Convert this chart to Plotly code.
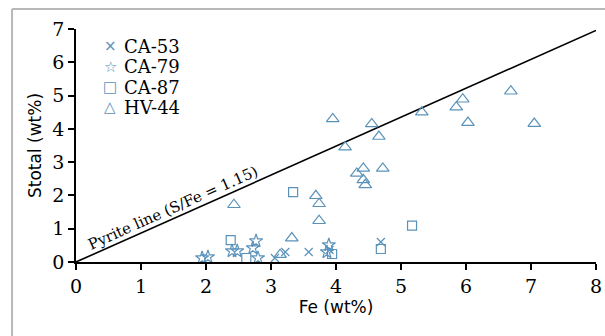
import plotly.graph_objects as go

ca53_fe = [3.06, 3.22, 3.58, 3.90, 4.69]
ca53_s = [0.12, 0.30, 0.30, 0.36, 0.60]

ca79_fe = [1.94, 2.03, 2.40, 2.48, 2.72, 2.77, 2.80, 3.86, 3.89]
ca79_s = [0.12, 0.15, 0.33, 0.33, 0.42, 0.63, 0.12, 0.30, 0.51]

ca87_fe = [2.38, 2.62, 3.34, 3.94, 4.69, 5.17]
ca87_s = [0.66, 0.12, 2.10, 0.24, 0.39, 1.09]

hv44_fe = [2.43, 3.14, 3.32, 3.69, 3.74, 3.74, 3.95, 4.14, 4.32, 4.42, 4.42, 4.45,
           4.55, 4.66, 4.72, 5.32, 5.85, 5.95, 6.03, 6.69, 7.05]
hv44_s = [1.72, 0.22, 0.72, 1.99, 1.75, 1.24, 4.30, 3.45, 2.66, 2.81, 2.47, 2.32,
          4.15, 3.77, 2.81, 4.50, 4.65, 4.89, 4.19, 5.13, 4.16]

series_names = ["CA-53", "CA-79", "CA-87", "HV-44"]
legend_glyphs = ["\u00d7", "\u2606", "\u25a1", "\u25b3"]

pyrite_ratio = 1.15
line_fe = [0, 8]
line_s = [v / pyrite_ratio for v in line_fe]

col = "#5a92ba"
serif = "DejaVu Serif"
sans = "DejaVu Sans"

fig = go.Figure()
fig.add_trace(go.Scatter(x=line_fe, y=line_s, mode="lines",
                         line=dict(color="black", width=1.6), showlegend=False,
                         hoverinfo="skip"))
series = [
    (ca53_fe, ca53_s, "x-thin-open", 8),
    (ca79_fe, ca79_s, "star-open", 10),
    (ca87_fe, ca87_s, "square-open", 9),
    (hv44_fe, hv44_s, "triangle-up-open", 11),
]
for name, (xs, ys, sym, sz) in zip(series_names, series):
    fig.add_trace(go.Scatter(x=xs, y=ys, mode="markers", name=name, showlegend=False,
                             marker=dict(symbol=sym, size=sz, color=col,
                                         line=dict(color=col, width=1.2)),
                             cliponaxis=False))

# manual legend (tight row spacing like the reference)
row_y = [0.927, 0.837, 0.751, 0.665]
for name, glyph, yy in zip(series_names, legend_glyphs, row_y):
    fig.add_annotation(x=0.0654, y=yy, xref="paper", yref="paper", text=glyph,
                       showarrow=False, xanchor="center", yanchor="middle",
                       font=dict(family=sans, size=15, color=col))
    fig.add_annotation(x=0.0885, y=yy, xref="paper", yref="paper", text=name,
                       showarrow=False, xanchor="left", yanchor="middle",
                       font=dict(family=serif, size=18, color="black"))

fig.add_annotation(x=1.49, y=1.62, xref="x", yref="y", text="Pyrite line (S/Fe = 1.15)",
                   showarrow=False, textangle=-24,
                   font=dict(family=serif, size=15, color="black"))

axis_common = dict(showgrid=False, zeroline=False, showline=True, linecolor="black",
                   linewidth=1.5, ticks="outside", ticklen=6, tickwidth=1.5,
                   tickcolor="black", automargin=False,
                   tickfont=dict(family=serif, size=19, color="black"))
fig.update_xaxes(range=[0, 8], dtick=1, title=dict(text="Fe (wt%)", standoff=6,
                 font=dict(family=sans, size=17, color="black")), **axis_common)
fig.update_yaxes(range=[0, 7], dtick=1, title=dict(text="Stotal (wt%)", standoff=6,
                 font=dict(family=sans, size=17, color="black")), **axis_common)

fig.add_shape(type="line", xref="paper", yref="paper", x0=-0.123, x1=-0.123, y0=-0.4, y1=1.086,
              line=dict(color="#b8b8b8", width=2))
fig.add_shape(type="line", xref="paper", yref="paper", x0=-0.123, x1=1.1, y0=1.086, y1=1.086,
              line=dict(color="#b8b8b8", width=2))

fig.update_layout(
    width=605, height=336,
    margin=dict(l=76, r=9, t=29, b=74),
    paper_bgcolor="white", plot_bgcolor="white",
    showlegend=False,
)

fig.write_html("out.html")
